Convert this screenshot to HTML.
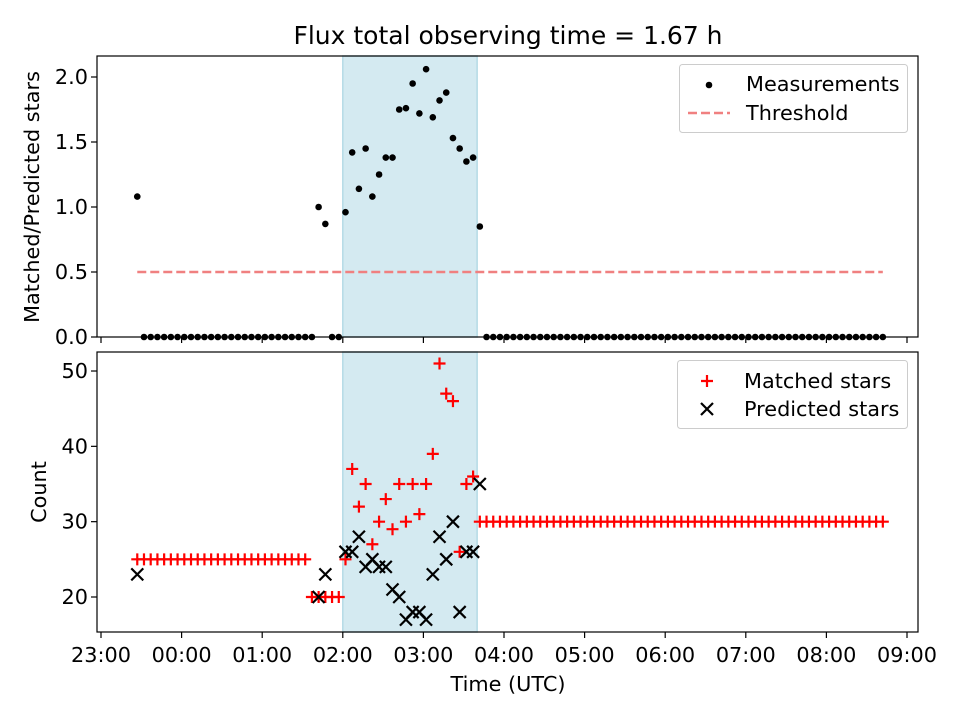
<!DOCTYPE html>
<html><head><meta charset="utf-8"><style>
body{margin:0;background:#fff}
svg{font-family:"DejaVu Sans","Liberation Sans",sans-serif}
</style></head><body>
<svg id="c" width="960" height="720" xmlns="http://www.w3.org/2000/svg"></svg>
<script>
// data: index i -> time = 23:27 + 5 min * i
const N = 112;
const startHour = 0.45; // hours after 23:00
const stepHour = 1/12;
const ratioSpecial = {0:1.08,27:1.0,28:0.87,31:0.96,32:1.42,33:1.14,34:1.45,35:1.08,36:1.25,37:1.38,38:1.38,39:1.75,40:1.76,41:1.95,42:1.72,43:2.06,44:1.69,45:1.82,46:1.88,47:1.53,48:1.45,49:1.35,50:1.38,51:0.85};
const matchedSpecial = {26:20,27:20,28:20,29:20,30:20,31:25,32:37,33:32,34:35,35:27,36:30,37:33,38:29,39:35,40:30,41:35,42:31,43:35,44:39,45:51,46:47,47:46,48:26,49:35,50:36,51:30};
const predicted = {0:23,27:20,28:23,31:26,32:26,33:28,34:24,35:25,36:24,37:24,38:21,39:20,40:17,41:18,42:18,43:17,44:23,45:28,46:25,47:30,48:18,49:26,50:26,51:35};
const xTickLabels = ["23:00","00:00","01:00","02:00","03:00","04:00","05:00","06:00","07:00","08:00","09:00"];
const topYTicks = [0.0,0.5,1.0,1.5,2.0];
const botYTicks = [20,30,40,50];
const threshold = 0.5;
const spanStart = 3.0, spanEnd = 4.6667;

const svg = document.getElementById('c');
const NS = 'http://www.w3.org/2000/svg';
function mk(tag, attrs, parent){const e=document.createElementNS(NS,tag);for(const k in attrs)e.setAttribute(k,attrs[k]);(parent||svg).appendChild(e);return e;}
const L=97,R=918;
const xs = h => 101 + 80.6*h;
const yT = v => 337 - 130*v;
const yB = v => 597 - 7.533*(v-20);
const T1=56,B1=337,T2=352,B2=632;
const FS=20.8;
const times=[],ratio=[],matched=[];
for(let i=0;i<N;i++){times.push(startHour+stepHour*i);ratio.push(ratioSpecial[i]!==undefined?ratioSpecial[i]:0);matched.push(matchedSpecial[i]!==undefined?matchedSpecial[i]:(i<26?25:30));}

[[T1,B1],[T2,B2]].forEach(([t,b],k)=>{
 const s=mk('rect',{x:xs(spanStart),y:t,width:xs(spanEnd)-xs(spanStart),height:b-t,fill:'#d4eaf1',stroke:'#b5dbe6','stroke-width':1.5});
 
 
});
const th=mk('line',{x1:xs(times[0]),x2:xs(times[N-1]),y1:yT(threshold),y2:yT(threshold),stroke:'#f08080','stroke-width':2.5,'stroke-dasharray':'9,4'});


for(let i=0;i<N;i++){const c=mk('circle',{cx:xs(times[i]),cy:yT(ratio[i]),r:3.3,fill:'#000'});
 
 }
for(let i=0;i<N;i++){const x=xs(times[i]),y=yB(matched[i]);
 const p=mk('path',{d:`M${x-6},${y}H${x+6}M${x},${y-6}V${y+6}`,stroke:'#f00','stroke-width':2.2});
 
 }
for(const k in predicted){const x=xs(times[k]),y=yB(predicted[k]);
 const p=mk('path',{d:`M${x-6},${y-6}L${x+6},${y+6}M${x-6},${y+6}L${x+6},${y-6}`,stroke:'#000','stroke-width':2.2});
 
 }
[[T1,B1,'top-axes-frame'],[T2,B2,'bottom-axes-frame']].forEach(([t,b,n])=>{const f=mk('rect',{x:L,y:t,width:R-L,height:b-t,fill:'none',stroke:'#000','stroke-width':1.2});
 
 });
xTickLabels.forEach((lab,h)=>{const x=xs(h);
 mk('line',{x1:x,x2:x,y1:B1,y2:B1+6,stroke:'#000','stroke-width':1.2});
 mk('line',{x1:x,x2:x,y1:B2,y2:B2+6,stroke:'#000','stroke-width':1.2});
 const t=mk('text',{x:x,y:B2+30,'text-anchor':'middle','font-size':FS});t.textContent=lab;
 
 });
topYTicks.forEach(v=>{const y=yT(v);mk('line',{x1:L-6,x2:L,y1:y,y2:y,stroke:'#000','stroke-width':1.2});
 const t=mk('text',{x:L-9,y:y+7,'text-anchor':'end','font-size':FS});t.textContent=v.toFixed(1);
 
 });
botYTicks.forEach(v=>{const y=yB(v);mk('line',{x1:L-6,x2:L,y1:y,y2:y,stroke:'#000','stroke-width':1.2});
 const t=mk('text',{x:L-9,y:y+7,'text-anchor':'end','font-size':FS});t.textContent=v;
 
 });
</script>
<svg width="960" height="720" style="position:absolute;left:0;top:0" xmlns="http://www.w3.org/2000/svg">
 <text x="508" y="44" text-anchor="middle" font-size="25">Flux total observing time = 1.67 h</text>
 <text transform="translate(39,197) rotate(-90)" text-anchor="middle" font-size="20.8">Matched/Predicted stars</text>
 <text transform="translate(46,492) rotate(-90)" text-anchor="middle" font-size="20.8">Count</text>
 <text x="508" y="691" text-anchor="middle" font-size="20.8">Time (UTC)</text>
 <g>
  <rect x="679.5" y="64.5" width="228" height="68" rx="3" fill="#fff" fill-opacity="0.8" stroke="#ccc"/>
  <circle cx="709" cy="85" r="3.3" fill="#000"/>
  <text x="746" y="91" font-size="20.8">Measurements</text>
  <line x1="688" x2="730" y1="113" y2="113" stroke="#f08080" stroke-width="2.5" stroke-dasharray="9,4"/>
  <text x="746" y="120" font-size="20.8">Threshold</text>
 </g>
 <g>
  <rect x="677.5" y="360.5" width="230" height="68" rx="3" fill="#fff" fill-opacity="0.8" stroke="#ccc"/>
  <path d="M701,381H713M707,375V387" stroke="#f00" stroke-width="2.2"/>
  <text x="744" y="388" font-size="20.8">Matched stars</text>
  <path d="M701,403L713,415M701,415L713,403" stroke="#000" stroke-width="2.2"/>
  <text x="744" y="416" font-size="20.8">Predicted stars</text>
 </g>
</svg>
</body></html>
